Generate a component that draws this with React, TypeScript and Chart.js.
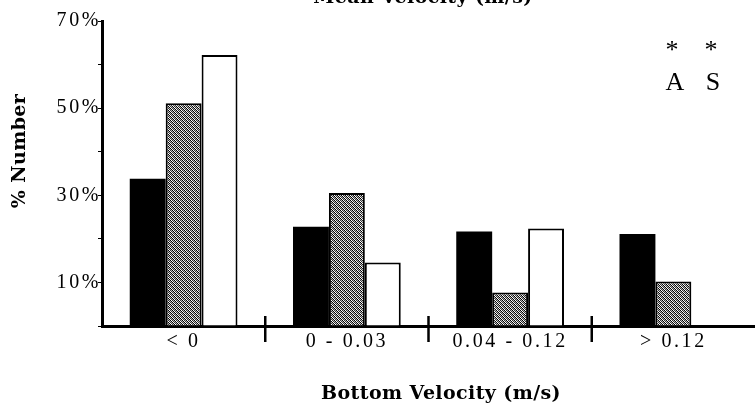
import React, { useEffect, useRef } from "react";
import { Chart, registerables } from "chart.js";

Chart.register(...registerables);

const categories = ["< 0", "0 - 0.03", "0.04 - 0.12", "> 0.12"];
const seriesBlack = [33.8, 22.8, 21.7, 21.1];
const seriesHatched = [51.1, 30.5, 7.7, 10.2];
const seriesWhite: (number | null)[] = [62.2, 14.6, 22.4, null];
const yMin = 0;
const yMax = 70;
const yStep = 10;
const labelledTicks = [10, 30, 50, 70];
const topTitle = "Mean Velocity (m/s)";
const xTitle = "Bottom Velocity (m/s)";
const yTitle = "% Number";
const markerStars = ["*", "*"];
const markerLetters = ["A", "S"];

function makePattern(): CanvasPattern | string {
  const c = document.createElement("canvas");
  c.width = 4;
  c.height = 4;
  const g = c.getContext("2d");
  if (!g) return "#888";
  g.fillStyle = "#fff";
  g.fillRect(0, 0, 4, 4);
  for (let y = 0; y < 4; y++) {
    for (let x = 0; x < 4; x++) {
      if ((x + y) % 2 === 0) {
        g.fillStyle = (x - y + 8) % 4 === 0 ? "#333" : "#000";
        g.fillRect(x, y, 1, 1);
      } else if ((x - y + 8) % 4 === 1) {
        g.fillStyle = "#bbb";
        g.fillRect(x, y, 1, 1);
      }
    }
  }
  return g.createPattern(c, "repeat") || "#888";
}

const spacingPlugin = {
  id: "spacing",
  beforeDraw(chart: any) {
    (chart.ctx as any).letterSpacing = "2.6px";
  },
  afterDatasetsDraw(chart: any) {
    (chart.ctx as any).letterSpacing = "0px";
  },
};

const decorPlugin = {
  id: "decor",
  afterDraw(chart: any) {
    const ctx = chart.ctx as CanvasRenderingContext2D;
    const xs = chart.scales.x;
    const bottom = chart.chartArea.bottom;
    ctx.save();
    (ctx as any).letterSpacing = "0px";
    // group separators
    ctx.strokeStyle = "#000";
    ctx.lineWidth = 2.5;
    for (let i = 1; i < categories.length; i++) {
      const x = (xs.getPixelForValue(i - 1) + xs.getPixelForValue(i)) / 2;
      ctx.beginPath();
      ctx.moveTo(x, bottom - 10);
      ctx.lineTo(x, bottom + 16);
      ctx.stroke();
    }
    // titles
    ctx.fillStyle = "#000";
    (ctx as any).letterSpacing = "0.4px";
    ctx.font = 'bold 19px "DejaVu Serif"';
    ctx.textAlign = "center";
    ctx.textBaseline = "alphabetic";
    ctx.fillText(topTitle, 423, 3);
    ctx.fillText(xTitle, 441, 399);
    ctx.save();
    ctx.translate(20, 151);
    ctx.rotate(-Math.PI / 2);
    ctx.textBaseline = "middle";
    ctx.fillText(yTitle, 0, 0);
    ctx.restore();
    // markers
    (ctx as any).letterSpacing = "0px";
    ctx.font = '26px "Liberation Serif"';
    const starX = [672, 711];
    const letterX = [675, 713];
    markerStars.forEach((s, i) => ctx.fillText(s, starX[i], 58));
    markerLetters.forEach((s, i) => ctx.fillText(s, letterX[i], 90));
    ctx.restore();
  },
};

export default function App() {
  const ref = useRef<HTMLCanvasElement | null>(null);
  useEffect(() => {
    if (!ref.current) return;
    const pattern = makePattern();
    const chart = new Chart(ref.current, {
      type: "bar",
      data: {
        labels: categories,
        datasets: [
          {
            data: seriesBlack,
            backgroundColor: "#000",
            borderColor: "#000",
            borderWidth: 0,
          },
          {
            data: seriesHatched,
            backgroundColor: pattern as any,
            borderColor: "#000",
            borderWidth: 2,
          },
          {
            data: seriesWhite as any,
            backgroundColor: "#fff",
            borderColor: "#000",
            borderWidth: 2,
          },
        ],
      },
      options: {
        responsive: false,
        animation: false,
        devicePixelRatio: 1,
        layout: { padding: { top: 21, right: 0, left: 0, bottom: 0 } },
        datasets: { bar: { categoryPercentage: 0.66, barPercentage: 1 } },
        plugins: {
          legend: { display: false },
          tooltip: { enabled: false },
          title: { display: false },
        },
        scales: {
          x: {
            afterFit: (s: any) => {
              s.height = 82;
            },
            grid: { display: false, drawTicks: false },
            border: { display: true, color: "#000", width: 3 },
            ticks: {
              color: "#000",
              autoSkip: false,
              maxRotation: 0,
              padding: 4,
              font: { family: '"Liberation Serif"', size: 20 },
            },
          },
          y: {
            min: yMin,
            max: yMax,
            afterFit: (s: any) => {
              s.width = 102;
            },
            grid: {
              display: true,
              drawOnChartArea: false,
              drawTicks: true,
              tickLength: 4,
              color: "#000",
              lineWidth: 1,
            },
            border: { display: true, color: "#000", width: 3 },
            ticks: {
              stepSize: yStep,
              color: "#000",
              padding: -3,
              font: { family: '"Liberation Serif"', size: 20 },
              callback: (v: any) => (labelledTicks.includes(Number(v)) ? v + "%" : ""),
            },
          },
        },
      },
      plugins: [spacingPlugin, decorPlugin],
    });
    return () => chart.destroy();
  }, []);
  return (
    <div style={{ position: "fixed", left: 0, top: 0, width: 755, height: 408, background: "#fff" }}>
      <canvas ref={ref} width={755} height={408} style={{ width: 755, height: 408 }} />
    </div>
  );
}
